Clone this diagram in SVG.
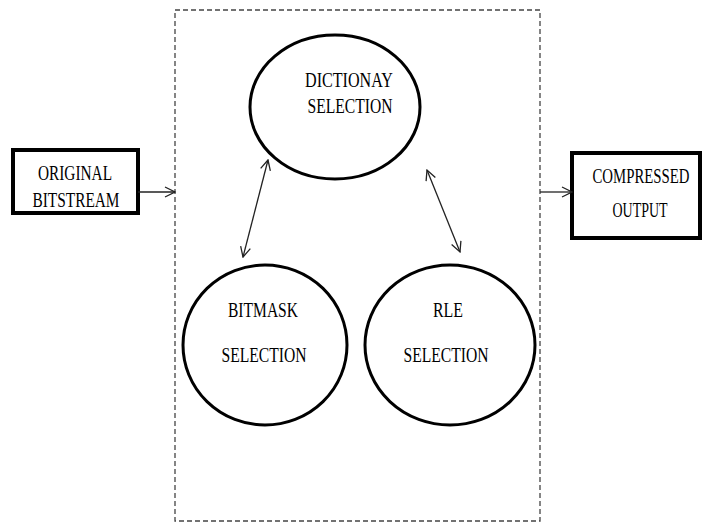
<svg xmlns="http://www.w3.org/2000/svg" width="705" height="522" viewBox="0 0 705 522">
<style>
.box{fill:#fff;stroke:#000;stroke-width:4}
.ell{fill:#fff;stroke:#000;stroke-width:3}
.lbl{font-family:"Liberation Serif","DejaVu Serif",serif;font-size:20px;fill:#000;text-anchor:middle}
.con{stroke:#222;stroke-width:1.3;fill:none}
.frame{fill:none;stroke:#444;stroke-width:1.3;stroke-dasharray:5,3}
</style>
<defs>
<marker id="ah" viewBox="0 0 12 12" refX="11" refY="6" markerWidth="12" markerHeight="12" markerUnits="userSpaceOnUse" orient="auto-start-reverse">
<path d="M1,1 L11,6 L1,11" fill="none" stroke="#222" stroke-width="1.3"/>
</marker>
</defs>
<rect width="705" height="522" fill="#fff"/>
<rect class="frame" x="175" y="10" width="365" height="511"/>
<g id="original">
<rect class="box" x="13" y="150" width="125" height="63"/>
<text class="lbl" x="75" y="180" textLength="74" lengthAdjust="spacingAndGlyphs">ORIGINAL</text>
<text class="lbl" x="76" y="207" textLength="87" lengthAdjust="spacingAndGlyphs">BITSTREAM</text>
</g>
<g id="compressed">
<rect class="box" x="572" y="153" width="128" height="85"/>
<text class="lbl" transform="translate(641,183) scale(0.74,1)" x="0" y="0">COMPRESSED</text>
<text class="lbl" x="640" y="217" textLength="55" lengthAdjust="spacingAndGlyphs">OUTPUT</text>
</g>
<g id="dictionary">
<ellipse class="ell" cx="335" cy="107" rx="85" ry="72"/>
<text class="lbl" x="349" y="87" textLength="88" lengthAdjust="spacingAndGlyphs">DICTIONAY</text>
<text class="lbl" x="350" y="113" textLength="85" lengthAdjust="spacingAndGlyphs">SELECTION</text>
</g>
<g id="bitmask">
<ellipse class="ell" cx="265" cy="345" rx="82" ry="80"/>
<text class="lbl" x="263" y="317" textLength="70" lengthAdjust="spacingAndGlyphs">BITMASK</text>
<text class="lbl" x="264" y="362" textLength="85" lengthAdjust="spacingAndGlyphs">SELECTION</text>
</g>
<g id="rle">
<ellipse class="ell" cx="450" cy="345" rx="85" ry="80"/>
<text class="lbl" x="448" y="317" textLength="30" lengthAdjust="spacingAndGlyphs">RLE</text>
<text class="lbl" x="446" y="362" textLength="85" lengthAdjust="spacingAndGlyphs">SELECTION</text>
</g>
<g id="connectors">
<line class="con" x1="138" y1="192" x2="175" y2="192" marker-end="url(#ah)"/>
<line class="con" x1="540" y1="192" x2="572" y2="192" marker-end="url(#ah)"/>
<line class="con" x1="268" y1="160" x2="243" y2="257" marker-start="url(#ah)" marker-end="url(#ah)"/>
<line class="con" x1="427" y1="170" x2="460" y2="252" marker-start="url(#ah)" marker-end="url(#ah)"/>
</g>
</svg>
